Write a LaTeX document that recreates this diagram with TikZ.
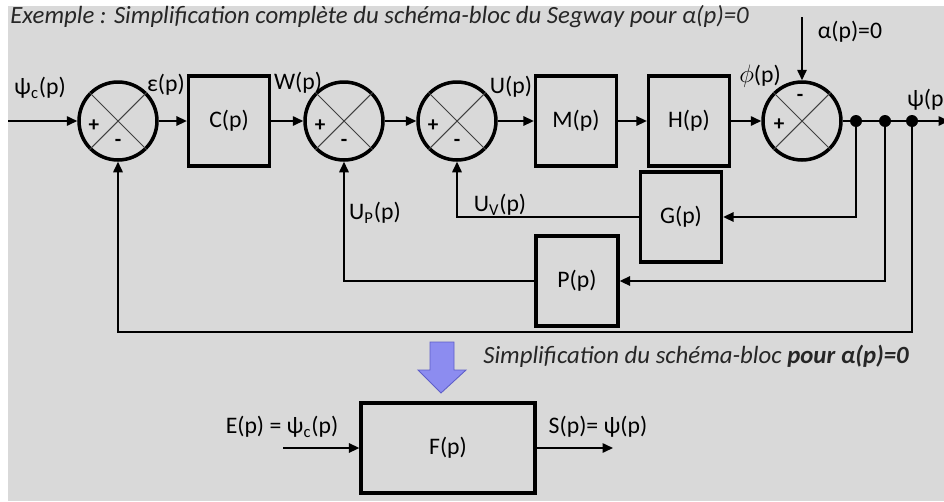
\documentclass[tikz,border=0pt]{standalone}
\usepackage{fontspec}
\setmainfont{Carlito}
\usetikzlibrary{arrows.meta,calc,positioning}
\definecolor{ink}{HTML}{000000}
\definecolor{paper}{HTML}{D9D9D9}
\definecolor{titletext}{HTML}{262626}
\definecolor{lilac}{HTML}{8C8CF0}
\definecolor{lilacDark}{HTML}{5E5EC8}
\newcommand{\lblfont}{\fontsize{13.5}{16}\selectfont}
\newcommand{\notefont}{\fontsize{14.1}{17}\selectfont}
\tikzset{
  block/.style={draw=ink,line width=1.9pt,minimum width=1.62cm,minimum height=1.8cm,inner sep=0pt,font=\lblfont},
  sum/.style={circle,draw=ink,line width=2pt,minimum size=1.56cm,inner sep=0pt},
  cross/.style={line width=0.6pt,draw=ink!75},
  lbl/.style={inner sep=1pt,font=\lblfont,text=ink},
  sign/.style={inner sep=0pt,font=\fontsize{12}{14}\selectfont\bfseries,text=ink},
  arrow/.style={-{Triangle[length=2.1mm,width=1.9mm]},line width=0.9pt,draw=ink},
  wire/.style={line width=0.9pt,draw=ink},
  dot/.style={circle,fill=ink,inner sep=0pt,minimum size=0.24cm},
  bigarrow/.style={fill=lilac,draw=lilacDark,line width=0.5pt}
}
\begin{document}
\begin{tikzpicture}[x=0.02cm,y=-0.02cm]
        \def\ym{121}
        \useasboundingbox (0,0) rectangle (944,501);
        \fill[paper] (8,6) rectangle (944,501);
        \node[anchor=west,font=\notefont\itshape,text=titletext,inner sep=0pt] (title) at (10,17)
          {Exemple : Simplification complète du schéma-bloc du Segway pour α(p)=0};

        \node[sum] (s1) at (118,\ym) {};
        \node[block] (C) at (229,\ym) {C(p)};
        \node[sum] (s2) at (344,\ym) {};
        \node[sum] (s3) at (457,\ym) {};
        \node[block] (M) at (576,\ym) {M(p)};
        \node[block] (H) at (689,\ym) {H(p)};
        \node[sum] (s4) at (802,\ym) {};
        \node[block,minimum width=1.62cm] (G) at (681,217) {G(p)};
        \node[block,minimum width=1.64cm] (P) at (577,281) {P(p)};
        \foreach \s in {s1,s2,s3,s4} {
          \draw[cross] (\s.north west) -- (\s.south east);
          \draw[cross] (\s.north east) -- (\s.south west);
        }
        \foreach \s in {s1,s2,s3} {
          \node[sign] (\s p) at ($(\s)+(-24,5)$) {+};
          \node[sign] (\s m) at ($(\s)+(0,22)$) {-};
        }
        \node[sign] (s4m) at ($(s4)+(-2,-23)$) {-};
        \node[sign] (s4p) at ($(s4)+(-23,4)$) {+};

        \node[dot] (d1) at (856,\ym) {};
        \node[dot] (d2) at (885,\ym) {};
        \node[dot] (d3) at (912,\ym) {};
        \coordinate (in) at (8,\ym);
        \coordinate (out) at (949,\ym);
        \coordinate (alpha) at (802,17);
        \coordinate (fb) at (912,332);

        \draw[arrow] (in) -- (s1);
        \draw[arrow] (s1) -- (C);
        \draw[arrow] (C) -- (s2);
        \draw[arrow] (s2) -- (s3);
        \draw[arrow] (s3) -- (M);
        \draw[arrow] (M) -- (H);
        \draw[arrow] (H) -- (s4);
        \draw[arrow] (alpha) -- (s4);
        \draw[wire] (s4) -- (d1) -- (d2) -- (d3);
        \draw[arrow] (d3) -- (out);
        \draw[arrow] (d1) |- (G);
        \draw[arrow] (G) -| (s3);
        \draw[arrow] (d2) |- (P);
        \draw[arrow] (P) -| (s2);
        \draw[arrow] (d3) -- (fb) -| (s1);

        \node[lbl] (lpsic) at (40,88) {ψ\textsubscript{c}(p)};
        \node[lbl] (leps) at (166,85) {ε(p)};
        \node[lbl] (lw) at (298,83) {W(p)};
        \node[lbl] (lu) at (511,87) {U(p)};
        \node[lbl] (lphi) at (760,76) {$\phi$(p)};
        \node[lbl] (lalpha) at (850,32) {α(p)=0};
        \node[lbl,anchor=west] (lpsi) at (905,100) {ψ(p)};
        \node[lbl] (lup) at (375,213) {U\textsubscript{P}(p)};
        \node[lbl] (luv) at (500,205) {U\textsubscript{V}(p)};

        \filldraw[bigarrow] (430,342) -- (454,342) -- (454,370) -- (466,370) -- (441,393) -- (418,370) -- (430,370) -- cycle;
        \node[anchor=west,font=\notefont\itshape,text=titletext,inner sep=0pt] (note) at (483,356)
          {Simplification du schéma-bloc \textbf{pour α(p)=0}};

        \node[block,minimum width=3.48cm] (F) at (448,448) {F(p)};
        \coordinate (fin) at (283,448);
        \coordinate (fout) at (613,448);
        \draw[arrow] (fin) -- (F);
        \draw[arrow] (F) -- (fout);
        \node[lbl] (le) at (282,427) {E(p) = ψ\textsubscript{c}(p)};
        \node[lbl] (ls) at (598,427) {S(p)= ψ(p)};
      \end{tikzpicture}
\end{document}
